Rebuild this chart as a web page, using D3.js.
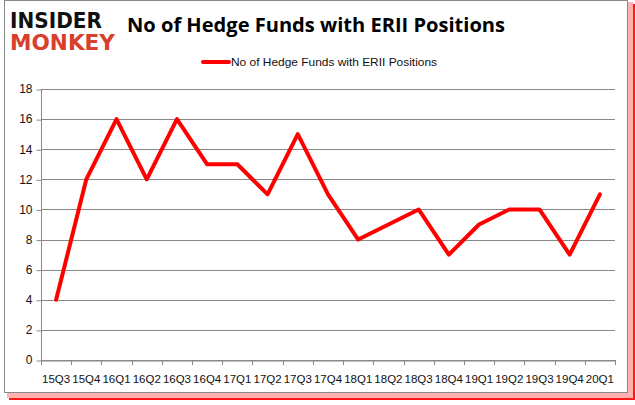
<!DOCTYPE html>
<html><head><meta charset="utf-8">
<script src="https://cdn.jsdelivr.net/npm/d3@7"></script>
<style>body{margin:0;background:#fff;}svg{display:block;}</style>
</head><body>
<script>
const categories = ["15Q3","15Q4","16Q1","16Q2","16Q3","16Q4","17Q1","17Q2","17Q3","17Q4","18Q1","18Q2","18Q3","18Q4","19Q1","19Q2","19Q3","19Q4","20Q1"];
const values = [4,12,16,12,16,13,13,11,15,11,8,9,10,7,9,10,10,7,11];
const yTicks = [0,2,4,6,8,10,12,14,16,18];
const seriesName = "No of Hedge Funds with ERII Positions";
const titleText = "No of Hedge Funds with ERII Positions";

const W = 635, H = 405;
const svg = d3.select("body").append("svg").attr("width", W).attr("height", H);

// frame with red shadow
svg.append("rect").attr("x", 9).attr("y", 4).attr("width", 626).attr("height", 396).attr("fill", "#ff0000").attr("opacity", 0.9);
svg.append("rect").attr("x", 7).attr("y", 2).attr("width", 626).attr("height", 396).attr("fill", "#ffb0b0");
svg.append("rect").attr("x", 4.5).attr("y", 0.5).attr("width", 623).attr("height", 392).attr("fill", "#fff").attr("stroke", "#888").attr("stroke-width", 1);

const x0 = 41, x1 = 615, y0 = 360, y1 = 89;
const x = d3.scaleBand().domain(categories).range([x0, x1]);
const y = d3.scaleLinear().domain([0, 18]).range([y0, y1]);

// gridlines
svg.append("g").selectAll("line").data(yTicks).join("line")
  .attr("x1", x0).attr("x2", x1).attr("y1", d => Math.round(y(d)) + 0.5).attr("y2", d => Math.round(y(d)) + 0.5)
  .attr("stroke", "#888").attr("stroke-width", 1);

// y axis
const ya = svg.append("g").attr("transform", `translate(${x0 + 0.5},0)`)
  .call(d3.axisLeft(y).tickValues(yTicks).tickSize(5).tickPadding(4));
ya.select(".domain").attr("stroke", "#888").attr("d", `M0,${y1}V${y0}`);
ya.selectAll(".tick line").attr("stroke", "#888").attr("transform", "translate(0,0.5)");
ya.selectAll("text").attr("font-family", "Liberation Sans, Arial, sans-serif").attr("font-size", 12).attr("fill", "#111");

// x axis
const xa = svg.append("g").attr("transform", `translate(0,${Math.round(y0) + 0.5})`)
  .call(d3.axisBottom(x).tickSize(0).tickPadding(14));
xa.select(".domain").attr("stroke", "#888");
xa.selectAll("text").attr("font-family", "Liberation Sans, Arial, sans-serif").attr("font-size", 11.5).attr("fill", "#111");
svg.append("g").selectAll("line").data(d3.range(categories.length + 1)).join("line")
  .attr("x1", i => Math.round(x0 + i * x.step()) + 0.5).attr("x2", i => Math.round(x0 + i * x.step()) + 0.5)
  .attr("y1", y0).attr("y2", y0 + 5).attr("stroke", "#888");

// line
const line = d3.line().x((d, i) => x(categories[i]) + x.bandwidth() / 2).y(d => y(d));
svg.append("path").datum(values).attr("d", line).attr("fill", "none")
  .attr("stroke", "#ff0000").attr("stroke-width", 4).attr("stroke-linejoin", "round").attr("stroke-linecap", "round");

// title
svg.append("text").attr("x", 316).attr("y", 32).attr("text-anchor", "middle")
  .attr("font-family", "Open Sans, Liberation Sans, sans-serif").attr("font-weight", "bold").attr("font-size", 20)
  .attr("textLength", 378).attr("lengthAdjust", "spacingAndGlyphs").attr("fill", "#000")
  .text(titleText);

// legend
svg.append("line").attr("x1", 203).attr("x2", 229).attr("y1", 62).attr("y2", 62).attr("stroke", "#ff0000").attr("stroke-width", 4).attr("stroke-linecap", "round");
svg.append("text").attr("x", 231).attr("y", 66).attr("font-family", "Liberation Sans, Arial, sans-serif").attr("font-size", 11.5)
  .attr("textLength", 206).attr("lengthAdjust", "spacingAndGlyphs").attr("fill", "#111").text(seriesName);

// logo
svg.append("text").attr("x", 10).attr("y", 28).attr("font-family", "DejaVu Sans, sans-serif").attr("font-weight", "bold")
  .attr("font-size", 21).attr("textLength", 92).attr("lengthAdjust", "spacingAndGlyphs").attr("fill", "#111").text("INSIDER");
svg.append("text").attr("x", 10).attr("y", 50).attr("font-family", "DejaVu Sans, sans-serif").attr("font-weight", "bold")
  .attr("font-size", 21).attr("textLength", 105).attr("lengthAdjust", "spacingAndGlyphs").attr("fill", "#d9402b").text("MONKEY");
</script>
</body></html>
